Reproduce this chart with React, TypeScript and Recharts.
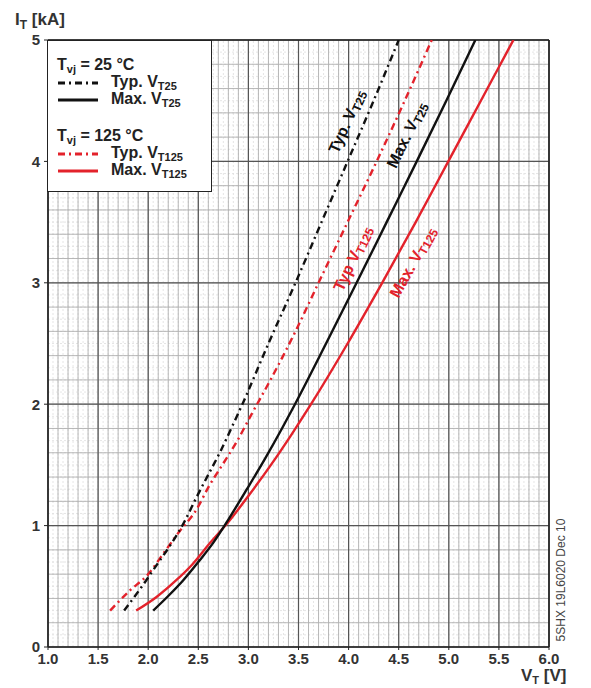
import React from "react";
import {
  LineChart,
  Line,
  XAxis,
  YAxis,
  ReferenceLine,
  ReferenceDot,
} from "recharts";

// forward characteristics, V_T [V] vs I_T [kA]
const typ25V = [1.76, 1.93, 2.08, 2.23, 2.36, 2.48, 2.6, 2.72, 2.84, 2.94, 3.2, 3.47, 3.73, 3.99, 4.25, 4.5];
const typ25I = [0.3, 0.49, 0.67, 0.85, 1.03, 1.23, 1.42, 1.61, 1.82, 2.0, 2.5, 3.0, 3.5, 4.0, 4.5, 5.0];

const max25V = [2.05, 2.2, 2.35, 2.5, 2.65, 2.8, 2.985, 3.165, 3.335, 3.465, 3.775, 4.08, 4.38, 4.68, 4.975, 5.265];
const max25I = [0.3, 0.42, 0.55, 0.7, 0.86, 1.05, 1.3, 1.55, 1.8, 2.0, 2.5, 3.0, 3.5, 4.0, 4.5, 5.0];

const typ125V = [1.62, 1.81, 2.0, 2.16, 2.31, 2.48, 2.61, 2.74, 2.89, 3.02, 3.22, 3.47, 3.7, 3.99, 4.28, 4.56, 4.83];
const typ125I = [0.3, 0.46, 0.6, 0.78, 0.95, 1.13, 1.33, 1.5, 1.7, 1.9, 2.2, 2.6, 3.0, 3.5, 4.0, 4.5, 5.0];

const max125V = [1.88, 2.08, 2.28, 2.44, 2.62, 2.81, 3.005, 3.225, 3.43, 3.625, 3.99, 4.335, 4.67, 4.995, 5.32, 5.645];
const max125I = [0.3, 0.41, 0.55, 0.68, 0.86, 1.04, 1.25, 1.5, 1.75, 2.0, 2.5, 3.0, 3.5, 4.0, 4.5, 5.0];

const xTicks = [1.0, 1.5, 2.0, 2.5, 3.0, 3.5, 4.0, 4.5, 5.0, 5.5, 6.0];
const yTicks = [0, 1, 2, 3, 4, 5];

const RED = "#e3222b";
const BLACK = "#111111";
const FONT = "'Liberation Sans', Arial, sans-serif";
const DASHDOT = "7 4 2 4";

const zip = (v: number[], i: number[]) => v.map((x, k) => ({ v: x, i: i[k] }));

const typ25 = zip(typ25V, typ25I);
const max25 = zip(max25V, max25I);
const typ125 = zip(typ125V, typ125I);
const max125 = zip(max125V, max125I);

// grid positions
const range = (a: number, b: number, step: number) => {
  const out: number[] = [];
  for (let k = 0; a + k * step <= b + 1e-9; k++) out.push(+(a + k * step).toFixed(3));
  return out;
};
const vFaint = range(1, 6, 0.05);
const vMinor = range(1, 6, 0.1);
const vMajor = range(1, 6, 0.5);
const hFaint = range(0, 5, 0.1);
const hMinor = range(0, 5, 0.2);
const hMajor = range(0, 5, 1);

// rotated curve labels
const curveLabels = [
  { v: 3.98, i: 4.33, main: "Typ. V", sub: "T25", color: BLACK, angle: -66 },
  { v: 4.58, i: 4.22, main: "Max. V", sub: "T25", color: BLACK, angle: -64 },
  { v: 4.04, i: 3.2, main: "Typ V", sub: "T125", color: RED, angle: -65 },
  { v: 4.64, i: 3.17, main: "Max. V", sub: "T125", color: RED, angle: -61 },
];

function CurveLabel(props: any) {
  const { cx, cy, lab } = props;
  return (
    <text
      x={cx}
      y={cy}
      transform={`rotate(${lab.angle} ${cx} ${cy})`}
      textAnchor="middle"
      dominantBaseline="central"
      fill={lab.color}
      fontFamily={FONT}
      fontWeight="bold"
      fontSize={16}
    >
      {lab.main}
      <tspan fontSize={12} dy={4}>
        {lab.sub}
      </tspan>
    </text>
  );
}

function LegendSwatch({ color, dash }: { color: string; dash?: string }) {
  return (
    <svg width={42} height={8} style={{ display: "inline-block", verticalAlign: "middle" }}>
      <line x1={1} y1={4} x2={41} y2={4} stroke={color} strokeWidth={2.8} strokeDasharray={dash} />
    </svg>
  );
}

function Sub({ children, size = 11, shift = 3 }: { children: React.ReactNode; size?: number; shift?: number }) {
  return (
    <span style={{ fontSize: size, position: "relative", top: shift, lineHeight: 0 }}>{children}</span>
  );
}

function Legend() {
  const row: React.CSSProperties = { height: 17, lineHeight: "15px", whiteSpace: "nowrap" };
  return (
    <div
      style={{
        position: "absolute",
        left: 47,
        top: 40,
        width: 165,
        height: 152,
        background: "#fff",
        border: "1.5px solid #222",
        fontFamily: FONT,
        fontWeight: "bold",
        fontSize: 16,
        color: "#222",
        padding: "16px 0 0 9px",
        boxSizing: "border-box",
      }}
    >
      <div style={row}>
        T<Sub>vj</Sub> = 25 °C
      </div>
      <div style={row}>
        <LegendSwatch color={BLACK} dash={DASHDOT} />
        <span style={{ marginLeft: 12 }}>
          Typ. V<Sub>T25</Sub>
        </span>
      </div>
      <div style={row}>
        <LegendSwatch color={BLACK} />
        <span style={{ marginLeft: 12 }}>
          Max. V<Sub>T25</Sub>
        </span>
      </div>
      <div style={{ height: 20 }} />
      <div style={row}>
        T<Sub>vj</Sub> = 125 °C
      </div>
      <div style={row}>
        <LegendSwatch color={RED} dash={DASHDOT} />
        <span style={{ marginLeft: 12 }}>
          Typ. V<Sub>T125</Sub>
        </span>
      </div>
      <div style={row}>
        <LegendSwatch color={RED} />
        <span style={{ marginLeft: 12 }}>
          Max. V<Sub>T125</Sub>
        </span>
      </div>
    </div>
  );
}

export default function App() {
  return (
    <div
      style={{
        position: "absolute",
        left: 0,
        top: 0,
        width: 591,
        height: 688,
        background: "#fff",
        overflow: "hidden",
      }}
    >
      <LineChart
        width={591}
        height={688}
        margin={{ top: 40, right: 42, bottom: 1, left: 8 }}
      >
        {vFaint.map((x) => (
          <ReferenceLine key={"vf" + x} x={x} stroke="#dedede" strokeWidth={0.8} strokeDasharray="2 2" />
        ))}
        {hFaint.map((y) => (
          <ReferenceLine key={"hf" + y} y={y} stroke="#dedede" strokeWidth={0.8} strokeDasharray="2 2" />
        ))}
        {vMinor.map((x) => (
          <ReferenceLine key={"vm" + x} x={x} stroke="#b0b0b0" strokeWidth={0.9} />
        ))}
        {hMinor.map((y) => (
          <ReferenceLine key={"hm" + y} y={y} stroke="#b0b0b0" strokeWidth={0.9} />
        ))}
        {vMajor.map((x) => (
          <ReferenceLine key={"vM" + x} x={x} stroke="#555" strokeWidth={1.2} />
        ))}
        {hMajor.map((y) => (
          <ReferenceLine key={"hM" + y} y={y} stroke="#555" strokeWidth={1.2} />
        ))}
        <ReferenceLine x={1} stroke="#222" strokeWidth={1.6} />
        <ReferenceLine x={6} stroke="#222" strokeWidth={1.6} />
        <ReferenceLine y={0} stroke="#222" strokeWidth={1.6} />
        <ReferenceLine y={5} stroke="#222" strokeWidth={1.6} />

        <XAxis
          dataKey="v"
          type="number"
          domain={[1, 6]}
          ticks={xTicks}
          allowDataOverflow
          height={40}
          axisLine={false}
          tickLine={{ stroke: "#222" }}
          tickSize={3}
          tickMargin={3}
          tickFormatter={(v: number) => v.toFixed(1)}
          tick={{ fontSize: 15, fontWeight: "bold", fill: "#333", fontFamily: FONT }}
        />
        <YAxis
          dataKey="i"
          type="number"
          domain={[0, 5]}
          ticks={yTicks}
          allowDataOverflow
          width={40}
          axisLine={false}
          tickLine={{ stroke: "#222" }}
          tickSize={4}
          tickMargin={4}
          tick={{ fontSize: 15, fontWeight: "bold", fill: "#333", fontFamily: FONT }}
        />

        <Line data={typ125} dataKey="i" type="monotone" stroke={RED} strokeWidth={2.4} strokeDasharray={DASHDOT} dot={false} isAnimationActive={false} />
        <Line data={max125} dataKey="i" type="monotone" stroke={RED} strokeWidth={2.4} dot={false} isAnimationActive={false} />
        <Line data={typ25} dataKey="i" type="monotone" stroke={BLACK} strokeWidth={2.4} strokeDasharray={DASHDOT} dot={false} isAnimationActive={false} />
        <Line data={max25} dataKey="i" type="monotone" stroke={BLACK} strokeWidth={2.4} dot={false} isAnimationActive={false} />

        {curveLabels.map((lab) => (
          <ReferenceDot
            key={lab.main + lab.sub}
            x={lab.v}
            y={lab.i}
            r={0}
            shape={(p: any) => <CurveLabel {...p} lab={lab} />}
          />
        ))}
      </LineChart>

      <Legend />

      <div
        style={{
          position: "absolute",
          left: 15,
          top: 10,
          fontFamily: FONT,
          fontWeight: "bold",
          fontSize: 17,
          color: "#333",
        }}
      >
        I<Sub size={12} shift={4}>T</Sub> [kA]
      </div>
      <div
        style={{
          position: "absolute",
          left: 521,
          top: 667,
          fontFamily: FONT,
          fontWeight: "bold",
          fontSize: 17,
          lineHeight: "17px",
          color: "#333",
          whiteSpace: "nowrap",
        }}
      >
        V<Sub size={11} shift={3}>T</Sub> [V]
      </div>
      <div
        style={{
          position: "absolute",
          left: 561,
          top: 580,
          transform: "translate(-50%, -50%) rotate(-90deg)",
          fontFamily: FONT,
          fontSize: 12,
          color: "#444",
          whiteSpace: "nowrap",
        }}
      >
        5SHX 19L6020 Dec 10
      </div>
    </div>
  );
}
